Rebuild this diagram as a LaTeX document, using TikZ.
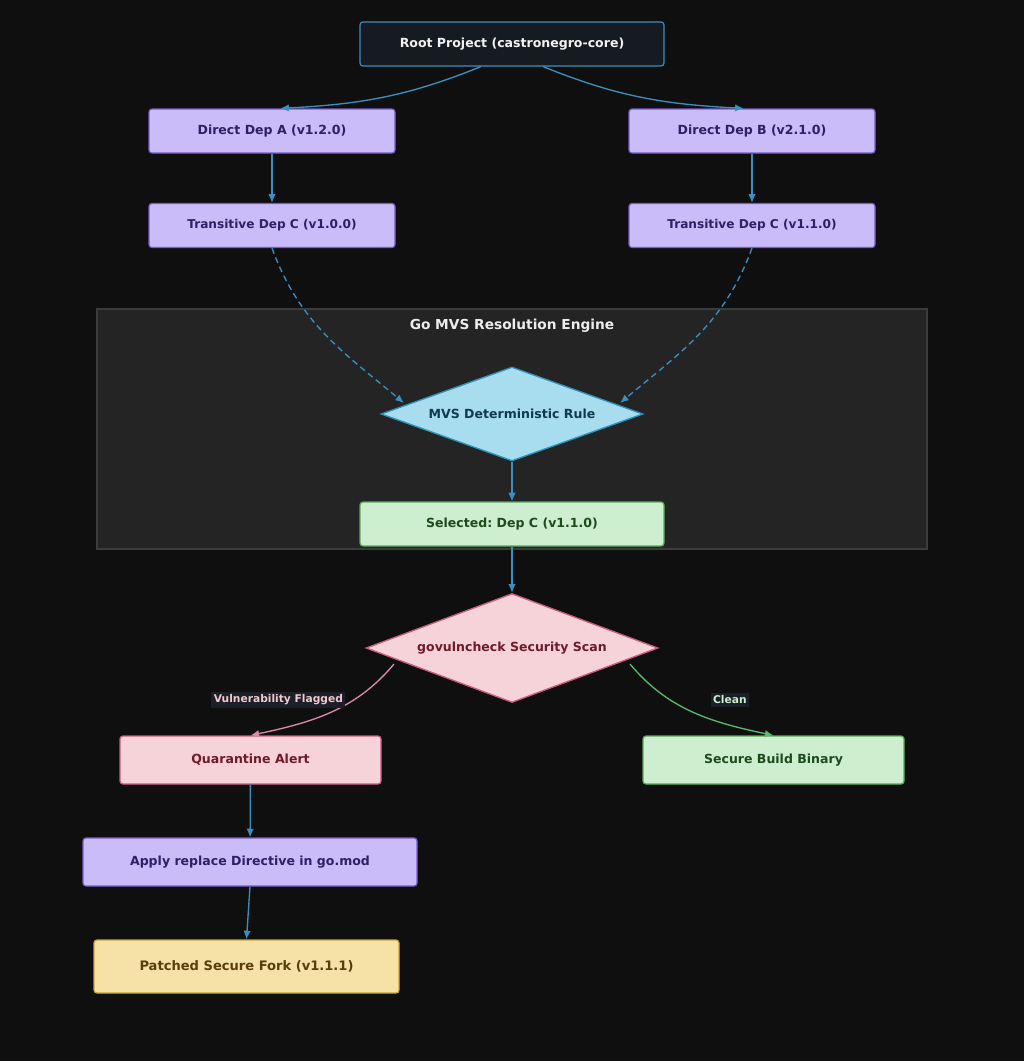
\documentclass[tikz,border=0pt]{standalone}
\usepackage{fontspec}
\setmainfont{DejaVu Sans}
\frenchspacing
\usetikzlibrary{shapes.geometric,arrows.meta}
\definecolor{bgcol}{HTML}{0F0F0F}
\definecolor{rootfill}{HTML}{161B22}
\definecolor{edgeblue}{HTML}{3A8FC0}
\definecolor{purplefill}{HTML}{C9BCF8}
\definecolor{purpleline}{HTML}{7A5CCC}
\definecolor{purpletext}{HTML}{2E1F66}
\definecolor{clusterfill}{HTML}{242424}
\definecolor{clusterline}{HTML}{3C3C3C}
\definecolor{bluefill}{HTML}{A8DCEF}
\definecolor{blueline}{HTML}{2E93B8}
\definecolor{bluetext}{HTML}{0F3A50}
\definecolor{greenfill}{HTML}{CDEECF}
\definecolor{greenline}{HTML}{58A858}
\definecolor{greentext}{HTML}{1E4A1E}
\definecolor{pinkfill}{HTML}{F6D3D8}
\definecolor{pinkline}{HTML}{C75C80}
\definecolor{pinktext}{HTML}{6E1A2A}
\definecolor{yellowfill}{HTML}{F6E1A6}
\definecolor{yellowline}{HTML}{C9A33C}
\definecolor{yellowtext}{HTML}{5A3E0A}
\definecolor{pinkedgecol}{HTML}{D98AAB}
\definecolor{greenedgecol}{HTML}{5BB870}
\definecolor{labelbg}{HTML}{1B1F27}
\begin{document}
\begin{tikzpicture}[x=0.75pt,y=0.75pt]
\tikzset{box/.style={rectangle, rounded corners=2.2pt, line width=0.9pt,
  minimum height=33pt, inner sep=0pt, font=\fontsize{9.4}{11}\selectfont\bfseries}}
\tikzset{purplebox/.style={box, draw=purpleline, fill=purplefill, text=purpletext, minimum width=184.5pt}}
\tikzset{greenbox/.style={box, draw=greenline, fill=greenfill, text=greentext}}
\tikzset{decision/.style={diamond, line width=1pt, inner sep=0pt, font=\fontsize{9.4}{11}\selectfont\bfseries}}
\tikzset{edge/.style={draw=edgeblue, line width=1pt, -{Latex[length=6.5pt,width=5.5pt]}}}
\tikzset{elabel/.style={fill=labelbg, inner sep=1.8pt, font=\fontsize{8}{9}\selectfont\bfseries}}
%background
\fill[bgcol] (0,0) rectangle (1024,-1061);
\useasboundingbox (0,0) rectangle (1024,-1061);
%resolution engine
\node[draw=clusterline, fill=clusterfill, line width=0.9pt, minimum width=622.5pt,
  minimum height=180pt, inner sep=0pt] (engine) at (512,-429) {};
\node[text=white!93!black, font=\fontsize{10.3}{12}\selectfont\bfseries] (engineTitle) at (512,-326) {Go MVS Resolution Engine};
%dependency graph
\node[box, draw=edgeblue, fill=rootfill, text=white!95!black, minimum width=228pt] (root) at (512,-44) {Root Project (castronegro-core)};
\node[purplebox] (depA) at (272,-131) {Direct Dep A (v1.2.0)};
\node[purplebox] (depB) at (752,-131) {Direct Dep B (v2.1.0)};
\node[purplebox, font=\fontsize{9.1}{11}\selectfont\bfseries] (transA) at (272,-225.5) {Transitive Dep C (v1.0.0)};
\node[purplebox, font=\fontsize{9.1}{11}\selectfont\bfseries] (transB) at (752,-225.5) {Transitive Dep C (v1.1.0)};
\node[decision, draw=blueline, fill=bluefill, text=bluetext, aspect=2.79, minimum width=196.5pt,
  minimum height=70.5pt] (mvs) at (512,-414) {MVS Deterministic Rule};
\node[greenbox, minimum width=228pt] (selected) at (512,-524) {Selected: Dep C (v1.1.0)};
%security scan
\node[decision, draw=pinkline, fill=pinkfill, text=pinktext, aspect=2.68, minimum width=219pt,
  minimum height=81.75pt] (scan) at (512,-648) {govulncheck Security Scan};
\node[box, draw=pinkline, fill=pinkfill, text=pinktext, minimum width=195.75pt, minimum height=36pt] (quarantine) at (250.5,-760) {Quarantine Alert};
\node[greenbox, minimum width=195.75pt, minimum height=36pt] (build) at (773.5,-760) {Secure Build Binary};
\node[purplebox, minimum width=250.5pt, minimum height=36pt] (replace) at (250,-862) {Apply replace Directive in go.mod};
\node[box, draw=yellowline, fill=yellowfill, text=yellowtext, minimum width=228.75pt,
  minimum height=39.75pt, font=\fontsize{9.8}{12}\selectfont\bfseries] (fork) at (246.5,-966.5) {Patched Secure Fork (v1.1.1)};
%connectors
\draw[edge] (root.216) to[out=-158,in=3] (depA.70);
\draw[edge] (root.324) to[out=-22,in=177] (depB.110);
\draw[edge] (depA) -- (transA);
\draw[edge] (depB) -- (transB);
\draw[edge, dash pattern=on 4.5pt off 3pt, shorten >=2pt] (transA.south) to[out=-70,in=140] (mvs.175);
\draw[edge, dash pattern=on 4.5pt off 3pt, shorten >=2pt] (transB.south) to[out=-110,in=40] (mvs.5);
\draw[edge] (mvs) -- (selected);
\draw[edge] (selected) -- (scan);
\draw[draw=pinkedgecol, line width=1pt, -{Latex[length=6.5pt,width=5.5pt]}, shorten <=4pt] (scan.186) to[out=-130,in=12]
  node[elabel, text=pinkfill!85!pinkedgecol, pos=0.35, anchor=east, xshift=-5pt] {Vulnerability Flagged} (quarantine.north);
\draw[draw=greenedgecol, line width=1pt, -{Latex[length=6.5pt,width=5.5pt]}, shorten <=4pt] (scan.354) to[out=-50,in=168]
  node[elabel, text=greenfill, pos=0.35, anchor=west, xshift=29pt] {Clean} (build.north);
\draw[edge] (quarantine) -- (replace);
\draw[edge] (replace.south) -- (fork.north);
\end{tikzpicture}
\end{document}
